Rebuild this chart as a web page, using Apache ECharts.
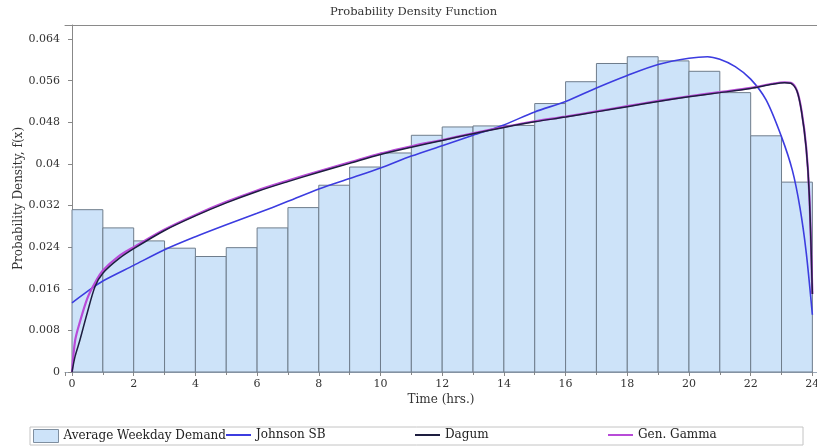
<!DOCTYPE html>
<html lang="en">
<head>
    <meta charset="utf-8" />
    <title>Probability Density Function</title>
    <script src="https://cdn.jsdelivr.net/npm/echarts@6/dist/echarts.min.js"></script>
    <style>
        html, body { margin: 0; padding: 0; background: #fff; }
        #chart { width: 817px; height: 446px; }
    </style>
</head>
<body>
    <div id="chart"></div>
    <script>
        // histogram: one bar per hour
        var binStart = [0, 1, 2, 3, 4, 5, 6, 7, 8, 9, 10, 11, 12, 13, 14, 15, 16, 17, 18, 19, 20, 21, 22, 23];
        var binValues = [0.0312, 0.0277, 0.0252, 0.0238, 0.0222, 0.0239, 0.0277, 0.0316, 0.0359, 0.0394,
            0.0421, 0.0455, 0.0471, 0.0473, 0.0474, 0.0516, 0.0558, 0.0593, 0.0606, 0.0598,
            0.0578, 0.0537, 0.0454, 0.0365];

        // fitted curves
        var jsbHours = [0, 0.5, 1, 2, 3, 4, 5, 6, 7, 8, 9, 10, 11, 12, 13, 14, 15, 16, 17, 18, 19, 20, 20.6, 21, 21.5, 22, 22.5, 23, 23.35, 23.6, 23.8, 24];
        var jsbValues = [0.0133, 0.0155, 0.0175, 0.0205, 0.0235, 0.0260, 0.0283, 0.0305, 0.0328, 0.0352, 0.0372, 0.0392, 0.0415, 0.0435, 0.0455, 0.0475, 0.0500, 0.0520, 0.0546, 0.0570, 0.0591, 0.0603, 0.0606, 0.0601, 0.0587, 0.0563, 0.0523, 0.0452, 0.0388, 0.0315, 0.0230, 0.0110];

        var dagumHours = [0, 0.1, 0.25, 0.5, 0.75, 1, 1.5, 2, 3, 4, 5, 6, 7, 8, 9, 10, 11, 12, 13, 14, 15, 16, 17, 18, 19, 20, 21, 22, 22.7, 23.1, 23.3, 23.5, 23.65, 23.8, 23.9, 24];
        var dagumValues = [0, 0.0030, 0.0060, 0.0115, 0.0165, 0.0190, 0.0217, 0.0237, 0.0272, 0.0300, 0.0325, 0.0347, 0.0366, 0.0384, 0.0401, 0.0418, 0.0432, 0.0445, 0.0458, 0.0470, 0.0481, 0.0490, 0.0500, 0.0510, 0.0520, 0.0529, 0.0537, 0.0545, 0.0553, 0.0556, 0.0555, 0.0540, 0.0500, 0.0430, 0.0340, 0.0150];

        var gammaHours = [0, 0.1, 0.25, 0.5, 0.75, 1, 1.5, 2, 3, 4, 5, 6, 7, 8, 9, 10, 11, 12, 13, 14, 15, 16, 17, 18, 19, 20, 21, 22, 22.7, 23.1, 23.3, 23.5, 23.65, 23.8, 23.9, 24];
        var gammaValues = [0, 0.0060, 0.0095, 0.0142, 0.0172, 0.0195, 0.0222, 0.0240, 0.0274, 0.0302, 0.0327, 0.0349, 0.0368, 0.0386, 0.0403, 0.0420, 0.0434, 0.0446, 0.0459, 0.0471, 0.0482, 0.0491, 0.0501, 0.0511, 0.0521, 0.0530, 0.0538, 0.0546, 0.0554, 0.0557, 0.0556, 0.0541, 0.0502, 0.0432, 0.0342, 0.0150];

        var yTicks = ['0', '0.008', '0.016', '0.024', '0.032', '0.04', '0.048', '0.056', '0.064'];

        function pairs(xs, ys) {
            var out = [];
            for (var i = 0; i < xs.length; i++) {
                out.push([xs[i], ys[i]]);
            }
            return out;
        }

        var histData = [];
        for (var i = 0; i < binStart.length; i++) {
            histData.push([binStart[i], binStart[i] + 1, binValues[i]]);
        }

        var serif = 'DejaVu Serif';
        var legendText = { fontFamily: serif, fontSize: 12, color: '#222' };
        var myChart = echarts.init(document.getElementById('chart'));

        var option = {
            animation: false,
            title: {
                text: 'Probability Density Function',
                left: 330,
                top: 6,
                padding: 0,
                textStyle: { fontFamily: serif, fontSize: 11.5, fontWeight: 'normal', color: '#333' }
            },
            grid: {
                left: 65, right: 0, top: 25, bottom: 74,
                containLabel: false,
                outerBoundsMode: 'none'
            },
            legend: [
                {
                    left: 33, top: 429, padding: 0, itemWidth: 25, itemHeight: 13,
                    itemStyle: { borderColor: '#7f8fa0', borderWidth: 1 },
                    textStyle: legendText,
                    data: [{ name: 'Average Weekday Demand', icon: 'rect' }]
                },
                {
                    left: 226, top: 429, padding: 0, itemWidth: 25, itemHeight: 2,
                    textStyle: legendText,
                    data: [{ name: 'Johnson SB', icon: 'rect' }]
                },
                {
                    left: 415, top: 429, padding: 0, itemWidth: 25, itemHeight: 2,
                    textStyle: legendText,
                    data: [{ name: 'Dagum', icon: 'rect' }]
                },
                {
                    left: 608, top: 429, padding: 0, itemWidth: 25, itemHeight: 2,
                    textStyle: legendText,
                    data: [{ name: 'Gen. Gamma', icon: 'rect' }]
                }
            ],
            graphic: [{
                type: 'rect',
                shape: { x: 30, y: 427, width: 773, height: 18 },
                style: { fill: 'none', stroke: '#c4c4c4', lineWidth: 1 },
                silent: true
            }],
            xAxis: [
                {
                    type: 'value',
                    min: -0.227,
                    max: 24.15,
                    splitNumber: 12,
                    name: 'Time (hrs.)',
                    nameLocation: 'middle',
                    nameGap: 22,
                    nameMoveOverlap: false,
                    nameTextStyle: { fontFamily: serif, fontSize: 12, color: '#333' },
                    axisLine: { lineStyle: { color: '#9aa8b8' } },
                    axisTick: { show: true, length: 4, lineStyle: { color: '#888' } },
                    minorTick: { show: true, splitNumber: 2, length: 3, lineStyle: { color: '#888' } },
                    axisLabel: {
                        showMinLabel: false, showMaxLabel: false, margin: 7,
                        fontFamily: serif, fontSize: 11, color: '#333'
                    },
                    splitLine: { show: false }
                },
                {
                    // top frame line of the plot
                    type: 'value',
                    position: 'top',
                    min: -0.227,
                    max: 24.15,
                    axisLine: { show: true, lineStyle: { color: '#8a8a8a' } },
                    axisTick: { show: false },
                    axisLabel: { show: false },
                    splitLine: { show: false }
                }
            ],
            yAxis: {
                type: 'value',
                min: 0,
                max: 0.0667,
                interval: 0.008,
                name: 'Probability Density, f(x)',
                nameLocation: 'middle',
                nameGap: 40,
                nameMoveOverlap: false,
                nameTextStyle: { fontFamily: serif, fontSize: 12, color: '#333' },
                axisLine: { show: true, lineStyle: { color: '#888' } },
                axisTick: { show: true, length: 4, lineStyle: { color: '#888' } },
                axisLabel: {
                    showMaxLabel: false, margin: 5,
                    fontFamily: serif, fontSize: 11, color: '#333',
                    formatter: function (v) {
                        var k = Math.round(v / 0.008);
                        return yTicks[k] !== undefined ? yTicks[k] : '';
                    }
                },
                splitLine: { show: false }
            },
            series: [
                {
                    name: 'Average Weekday Demand',
                    type: 'custom',
                    itemStyle: { color: '#cde3f9' },
                    encode: { x: [0, 1], y: 2 },
                    data: histData,
                    renderItem: function (params, api) {
                        var topLeft = api.coord([api.value(0), api.value(2)]);
                        var bottomRight = api.coord([api.value(1), 0]);
                        return {
                            type: 'rect',
                            shape: {
                                x: topLeft[0], y: topLeft[1],
                                width: bottomRight[0] - topLeft[0],
                                height: bottomRight[1] - topLeft[1]
                            },
                            style: { fill: '#cde3f9', stroke: '#6f7d8c', lineWidth: 1 }
                        };
                    }
                },
                {
                    name: 'Johnson SB',
                    type: 'line',
                    smooth: 0.3,
                    symbol: 'none',
                    color: '#3c3ce0',
                    lineStyle: { width: 1.6, color: '#3c3ce0' },
                    data: pairs(jsbHours, jsbValues)
                },
                {
                    name: 'Gen. Gamma',
                    type: 'line',
                    smooth: 0.3,
                    symbol: 'none',
                    color: '#b84bd8',
                    lineStyle: { width: 2.2, color: '#b84bd8' },
                    data: pairs(gammaHours, gammaValues)
                },
                {
                    name: 'Dagum',
                    type: 'line',
                    smooth: 0.3,
                    symbol: 'none',
                    color: '#1e1e40',
                    lineStyle: { width: 1.5, color: '#1e1e40' },
                    data: pairs(dagumHours, dagumValues)
                }
            ]
        };
        myChart.setOption(option);
    </script>
</body>
</html>
